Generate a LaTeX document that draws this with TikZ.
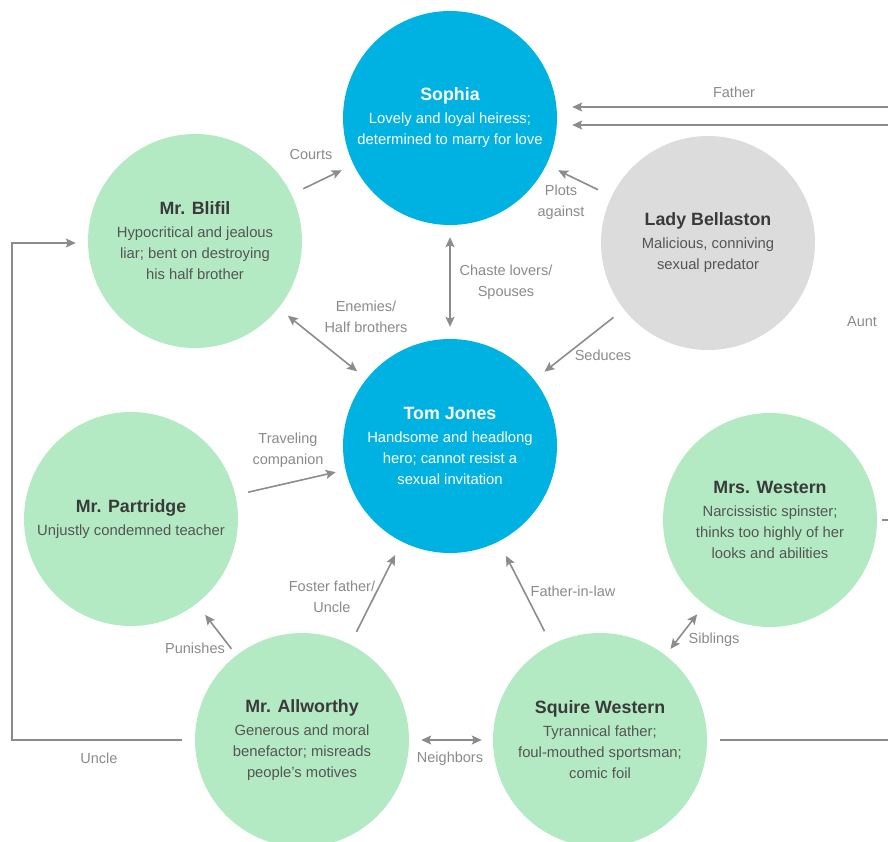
\documentclass[tikz,border=0pt]{standalone}
\usepackage{fontspec}
\setmainfont{Liberation Sans}
\usetikzlibrary{arrows.meta}

\definecolor{leadblue}{HTML}{00B2E2}
\definecolor{castgreen}{HTML}{B3EAC4}
\definecolor{foegray}{HTML}{DCDCDC}
\definecolor{namegray}{HTML}{3A3A3A}
\definecolor{descgray}{HTML}{555555}
\definecolor{taggray}{HTML}{8A8A8A}
\definecolor{linkgray}{HTML}{8C8C8C}

\newcommand{\who}[1]{{\color{whocol}\fontsize{17.8}{21}\selectfont\bfseries #1}}

\begin{document}
\begin{tikzpicture}[x=1pt,y=-1pt,
  lead/.style={circle,fill=leadblue,text=white,minimum size=214pt,inner sep=0pt,
    align=center,font=\fontsize{14.8}{21}\selectfont,
    execute at begin node=\colorlet{whocol}{white}},
  cast/.style={lead,fill=castgreen,text=descgray,
    execute at begin node=\colorlet{whocol}{namegray}},
  foe/.style={cast,fill=foegray},
  tag/.style={text=taggray,align=center,font=\fontsize{14.5}{21}\selectfont},
  link/.style={draw=linkgray,line width=1.6pt},
  >={Stealth[length=10pt,width=9pt,inset=2pt]}
]
  \useasboundingbox (0,0) rectangle (888,841);

  % characters
  \node[lead] (sophia) at (450,118) {\who{Sophia}\\[2pt]Lovely and loyal heiress;\\determined to marry for love};
  \node[lead] (tom) at (450,446) {\who{Tom Jones}\\[2pt]Handsome and headlong\\hero; cannot resist a\\sexual invitation};
  \node[cast] (blifil) at (195,241) {\who{Mr. Blifil}\\[2pt]Hypocritical and jealous\\liar; bent on destroying\\his half brother};
  \node[foe] (bellaston) at (708,243) {\who{Lady Bellaston}\\[2pt]Malicious, conniving\\sexual predator};
  \node[cast] (partridge) at (131,519) {\who{Mr. Partridge}\\[2pt]Unjustly condemned teacher};
  \node[cast] (mrswestern) at (770,520) {\who{Mrs. Western}\\[2pt]Narcissistic spinster;\\thinks too highly of her\\looks and abilities};
  \node[cast] (allworthy) at (302,740) {\who{Mr. Allworthy}\\[2pt]Generous and moral\\benefactor; misreads\\people's motives};
  \node[cast] (squire) at (600,740) {\who{Squire Western}\\[2pt]Tyrannical father;\\foul-mouthed sportsman;\\comic foil};

  % routes off the right and left edges
  \coordinate (rail) at (12,0);
  \coordinate (farright) at (905,0);
  \coordinate (nearright) at (896,0);

  % relations
  \draw[link,->,shorten <=13pt,shorten >=13pt] (blifil) -- (sophia);
  \draw[link,->,shorten <=15pt,shorten >=13pt] (bellaston) -- (sophia);
  \draw[link,<->,shorten <=12pt,shorten >=12pt] (sophia) -- (tom);
  \draw[link,<->,shorten <=12pt,shorten >=12pt] (blifil) -- (tom);
  \draw[link,->,shorten <=13pt,shorten >=13pt] (bellaston) -- (tom);
  \draw[link,->,shorten <=13pt,shorten >=10pt] (partridge) -- (tom);
  \draw[link,->,shorten <=8pt,shorten >=14pt] (allworthy) -- (partridge);
  \draw[link,->,shorten <=14pt,shorten >=15pt] (allworthy) -- (tom);
  \draw[link,->,shorten <=15pt,shorten >=16pt] (squire) -- (tom);
  \draw[link,<->,shorten <=8pt,shorten >=12pt] (squire) -- (mrswestern);
  \draw[link,<->,shorten <=12pt,shorten >=11pt] (allworthy) -- (squire);
  \draw[link,->] ([xshift=-13pt]allworthy.west) -- (rail |- allworthy.west) |- ([xshift=-12pt,yshift=-2pt]blifil.west);
  \draw[link,->] ([xshift=13pt]squire.east) -- (farright |- squire.east) |- ([xshift=15pt,yshift=11pt]sophia.east);
  \draw[link,->] ([xshift=5pt]mrswestern.east) -- (nearright |- mrswestern.east) |- ([xshift=15pt,yshift=-7pt]sophia.east);

  % labels
  \node[tag] (courts) at (311,155) {Courts};
  \node[tag] (plots) at (561,202) {Plots\\against};
  \node[tag] (chaste) at (506,282) {Chaste lovers/\\Spouses};
  \node[tag] (enemies) at (366,317) {Enemies/\\Half brothers};
  \node[tag] (seduces) at (603,355) {Seduces};
  \node[tag] (travel) at (288,450) {Traveling\\companion};
  \node[tag] (punishes) at (195,648) {Punishes};
  \node[tag] (foster) at (332,597) {Foster father/\\Uncle};
  \node[tag] (inlaw) at (573,591) {Father-in-law};
  \node[tag] (siblings) at (714,640) {Siblings};
  \node[tag] (neighbors) at (450,759) {Neighbors};
  \node[tag] (uncle) at (99,758) {Uncle};
  \node[tag] (father) at (734,92) {Father};
  \node[tag] (aunt) at (862,322) {Aunt};
\end{tikzpicture}
\end{document}
